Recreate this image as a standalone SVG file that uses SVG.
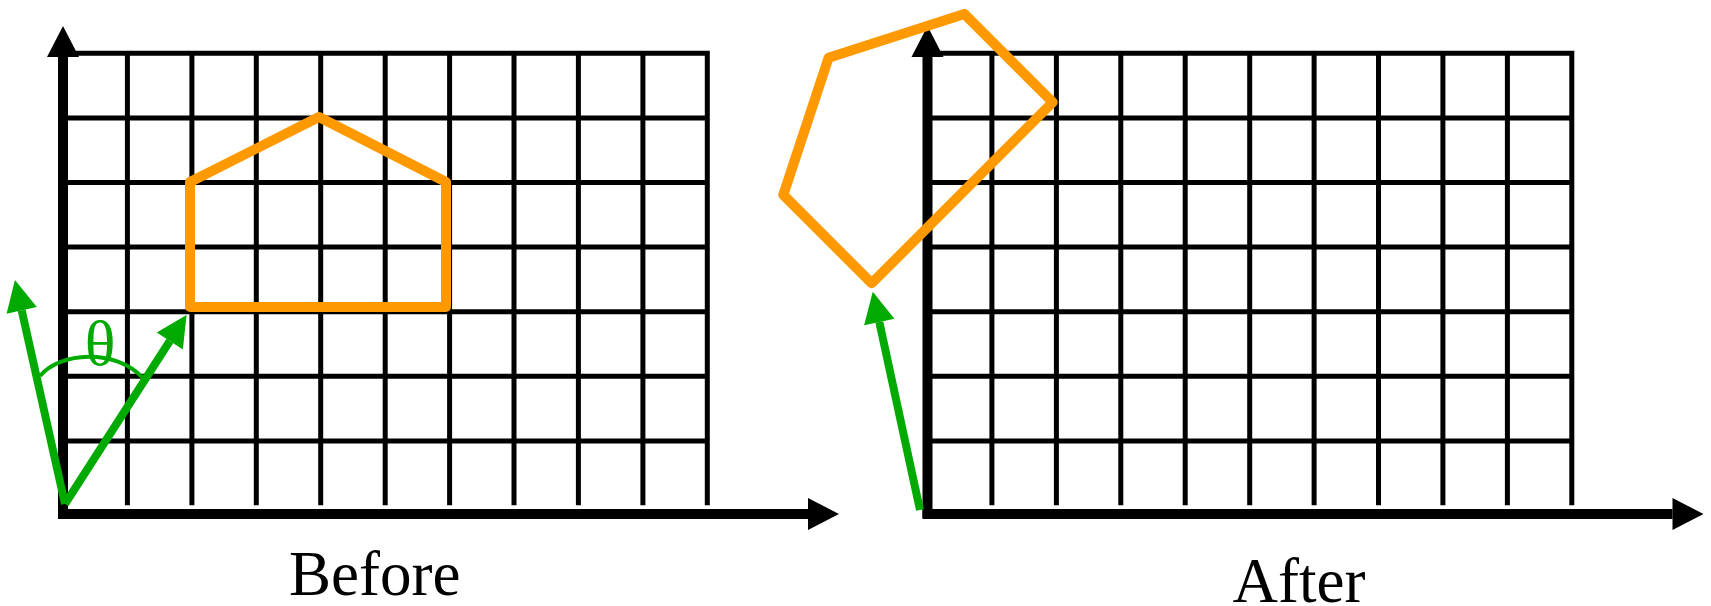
<svg xmlns="http://www.w3.org/2000/svg" width="1711" height="606" viewBox="0 0 1711 606">
<style>
.axis{stroke:#000;stroke-width:10;fill:none}
.shape{fill:none;stroke:#ff9900;stroke-width:10;stroke-linejoin:round}
.vec{stroke:#00aa00;stroke-width:8;fill:none}
.arc{stroke:#00aa00;stroke-width:4;fill:none}
.lbl{font-family:"Liberation Serif","Times New Roman",serif;font-size:63px;fill:#000;text-anchor:middle}
.theta{font-family:"Liberation Serif","Times New Roman",serif;font-size:64px;fill:#00aa00;text-anchor:middle}
</style>
<defs>
<marker id="ah" markerUnits="userSpaceOnUse" viewBox="0 -16 31 32" refX="0" refY="0" markerWidth="31" markerHeight="32" orient="auto" overflow="visible"><path d="M0,-16 L31,0 L0,16 Z" fill="#000"/></marker>
<marker id="gh" markerUnits="userSpaceOnUse" viewBox="0 -16 31 32" refX="0" refY="0" markerWidth="31" markerHeight="32" orient="auto" overflow="visible"><path d="M0,-15.5 L31,0 L0,15.5 Z" fill="#00aa00"/></marker>
<path id="gridlines" fill="none" stroke="#000" stroke-width="5" d="M63,53.3H709.8M63,117.9H709.8M63,182.5H709.8M63,247.1H709.8M63,311.7H709.8M63,376.3H709.8M63,440.9H709.8M127.4,50.8V505.3M191.9,50.8V505.3M256.3,50.8V505.3M320.7,50.8V505.3M385.2,50.8V505.3M449.6,50.8V505.3M514,50.8V505.3M578.4,50.8V505.3M642.9,50.8V505.3M707.3,50.8V505.3"/>
<g id="axes">
<path d="M58,514H808" stroke="#000" stroke-width="10" fill="none" marker-end="url(#ah)"/>
<path d="M63,518V57" stroke="#000" stroke-width="10" fill="none" marker-end="url(#ah)"/>
</g>
</defs>
<g id="before">
<use href="#gridlines"/>
<use href="#axes"/>
<polygon class="shape" points="190,307 446,307 446,182 319,117 190,182"/>
<text class="lbl" x="374.7" y="595">Before</text>
</g>
<g id="after">
<use href="#gridlines" transform="translate(864.5,0)"/>
<use href="#axes" transform="translate(864.5,0)"/>
<polygon class="shape" points="871.7,283.3 1052.7,102.3 964.3,13.9 828.6,57.7 783.3,194.9"/>
<text class="lbl" x="1299" y="601.7">After</text>
</g>
<g id="connectors">
<path class="vec" d="M65,504L21.7,310.3" marker-end="url(#gh)"/>
<path class="vec" d="M65,504L169.8,341" marker-end="url(#gh)"/>
<path class="arc" d="M40,376C60,352 115,348 143,378"/>
<text class="theta" x="100" y="365">θ</text>
<path class="vec" d="M920,510L879.3,322" marker-end="url(#gh)"/>
</g>
</svg>
